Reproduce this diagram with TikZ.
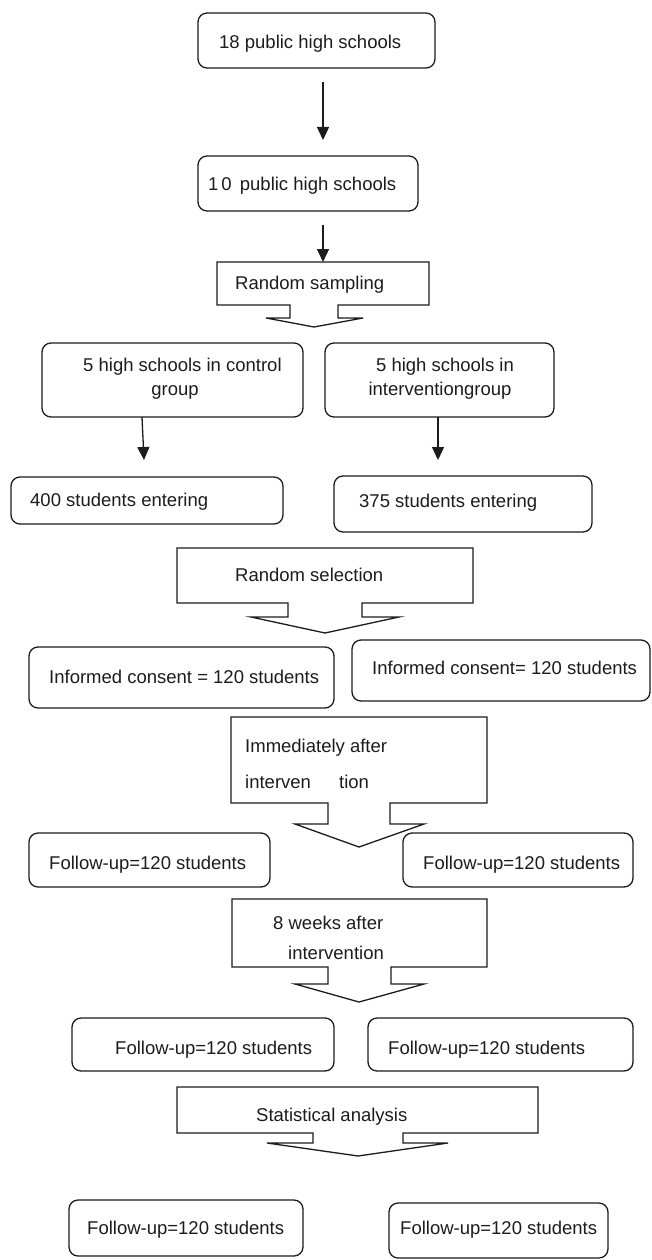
\documentclass[tikz,border=0pt]{standalone}
\usepackage{fontspec}
\setmainfont{Liberation Sans}
\usetikzlibrary{arrows.meta,calc}
\definecolor{ink}{HTML}{1C1C1C}
\newcommand\rbx[5]{\node[rbox, minimum width={(#4)-(#2)}, minimum height={(#5)-(#3)}] (#1) at ({((#2)+(#4))/2},{((#3)+(#5))/2}) {};}
\newcommand\gbx[5]{\node[ghost, minimum width={(#4)-(#2)}, minimum height={(#5)-(#3)}] (#1) at ({((#2)+(#4))/2},{((#3)+(#5))/2}) {};}
\begin{document}
\begin{tikzpicture}[x=1pt,y=-1pt,
  every node/.style={font=\fontsize{18.5}{22}\selectfont, text=ink},
  rbox/.style={draw=ink, line width=1.3pt, rounded corners=9pt, inner sep=0pt, outer sep=0pt},
  ghost/.style={inner sep=0pt, outer sep=0pt},
  txt/.style={anchor=west, inner sep=0pt, text height=13pt, text depth=0pt},
  ctxt/.style={anchor=center, inner sep=0pt, text height=13pt, text depth=0pt},
  blk/.style={draw=ink, line width=1.3pt, line join=miter},
  arr/.style={draw=ink, line width=1.3pt, -{Triangle[length=13pt,width=12pt]}}]
\useasboundingbox (0,0) rectangle (652,1260);
\fill[white] (0,0) rectangle (652,1260);

% boxes
\rbx{b1}{198}{13}{435}{68}
\rbx{b2}{198}{156}{418}{211}
\rbx{ctrl}{42}{343}{303}{417}
\rbx{intv}{325}{343}{554}{417}
\rbx{s400}{11}{477}{283}{524}
\rbx{s375}{334}{476}{592}{532}
\rbx{icl}{29}{647}{334}{708}
\rbx{icr}{352}{640}{650}{701}
\rbx{fa}{29}{833}{270}{887}
\rbx{fb}{403}{833}{633}{887}
\rbx{fc}{72}{1018}{334}{1071}
\rbx{fd}{368}{1018}{633}{1071}
\rbx{fe}{69}{1200}{303}{1256}
\rbx{ff}{389}{1203}{608}{1258}

% block arrows
\gbx{rs}{217}{262}{429}{305}
\draw[blk] (rs.north west) -- (rs.north east) -- (rs.south east) -- (338,305) -- (338,318) -- (363,318) -- (314,327) -- (266,318) -- (290,318) -- (290,305) -- (rs.south west) -- cycle;
\gbx{rsel}{177}{548}{473}{603}
\draw[blk] (rsel.north west) -- (rsel.north east) -- (rsel.south east) -- (362,603) -- (362,617) -- (399,617) -- (325,633) -- (251,617) -- (288,617) -- (288,603) -- (rsel.south west) -- cycle;
\gbx{imm}{231}{717}{487}{803}
\draw[blk] (imm.north west) -- (imm.north east) -- (imm.south east) -- (390,803) -- (390,824) -- (424,824) -- (359,847) -- (295,824) -- (328,824) -- (328,803) -- (imm.south west) -- cycle;
\gbx{wk}{232}{899}{487}{967}
\draw[blk] (wk.north west) -- (wk.north east) -- (wk.south east) -- (391,967) -- (391,984) -- (424,984) -- (359,1002) -- (295,984) -- (328,984) -- (328,967) -- (wk.south west) -- cycle;
\gbx{st}{177}{1087}{538}{1133}
\draw[blk] (st.north west) -- (st.north east) -- (st.south east) -- (403,1133) -- (403,1143) -- (448,1143) -- (358,1156) -- (267,1143) -- (313,1143) -- (313,1133) -- (st.south west) -- cycle;

% texts
\node[txt] (t1) at (219,42) {18 public high schools};
\node[txt] (t2) at (208,184) {1\kern3pt0\kern3pt\ public high schools};
\node[txt] (t3) at (235,283) {Random sampling};
\node[txt] (t4) at (83,365) {5 high schools in control};
\node[ctxt] (t5) at (175,389) {group};
\node[ctxt] (t6) at (445,365) {5 high schools in};
\node[ctxt] (t7) at (440,389) {interventiongroup};
\node[txt] (t8) at (30,500) {400 students entering};
\node[txt] (t9) at (359,501) {375 students entering};
\node[txt] (t10) at (235,575) {Random selection};
\node[txt] (t11) at (49,677) {Informed consent = 120 students};
\node[txt] (t12) at (372,668) {Informed consent= 120 students};
\node[txt] (t13) at (245,746) {Immediately after};
\node[txt] (t14) at (245,782) {interven};
\node[txt] (t15) at (339,782) {tion};
\node[txt] (t16) at (49,863) {Follow-up=120 students};
\node[txt] (t17) at (423,863) {Follow-up=120 students};
\node[txt] (t18) at (273,923) {8 weeks after};
\node[txt] (t19) at (288,953) {intervention};
\node[txt] (t20) at (115,1048) {Follow-up=120 students};
\node[txt] (t21) at (388,1048) {Follow-up=120 students};
\node[txt] (t22) at (256,1115) {Statistical analysis};
\node[txt] (t23) at (87,1228) {Follow-up=120 students};
\node[txt] (t24) at (400,1228) {Follow-up=120 students};

% connectors
\draw[arr] ($(b1.south)+(6.5,14)$) -- ($(b2.north)+(15,-16)$);
\draw[arr] ($(b2.south)+(15,14)$) -- (rs.north);
\draw[arr] ($(ctrl.south)+(-30.5,0)$) -- ($(s400.north)+(-3,-17)$);
\draw[arr] ($(intv.south)+(-1.5,0)$) -- ($(s375.north)+(-25,-16)$);
\end{tikzpicture}
\end{document}
